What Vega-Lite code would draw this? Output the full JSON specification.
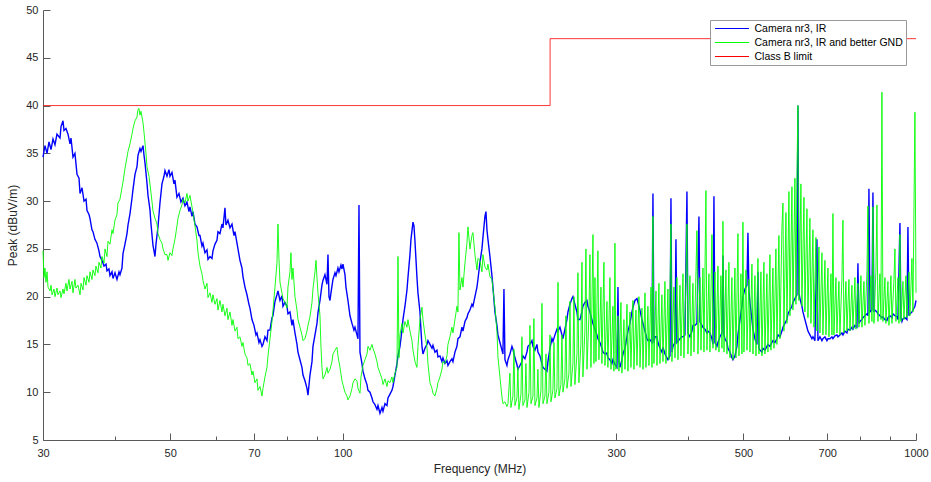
{
"$schema": "https://vega.github.io/schema/vega-lite/v6.json",
"width": 873, "height": 430,
"autosize": "none",
"padding": {"left": 43, "top": 10, "right": 15, "bottom": 42},
"background": "white",
"config": {"view": {"stroke": null}, "font": "Liberation Sans",
  "axis": {"labelFont": "Liberation Sans", "titleFont": "Liberation Sans", "labelFontSize": 11, "titleFontSize": 12, "titleFontWeight": "normal", "labelColor": "#262626", "titleColor": "#262626", "domainColor": "#5a5a5a", "tickColor": "#5a5a5a", "grid": false}},
"datasets": {
"b": [{"f":30,"v":34.6},{"f":30.24,"v":35.8},{"f":30.49,"v":35.0},{"f":30.73,"v":36.2},{"f":30.98,"v":35.4},{"f":31.23,"v":36.5},{"f":31.48,"v":35.9},{"f":31.73,"v":37.0},{"f":32.12,"v":36.6},{"f":32.25,"v":37.8},{"f":32.51,"v":38.4},{"f":32.64,"v":37.4},{"f":32.9,"v":37.6},{"f":33.17,"v":37.0},{"f":33.44,"v":36.0},{"f":33.57,"v":36.6},{"f":33.84,"v":34.6},{"f":34.11,"v":35.0},{"f":34.39,"v":32.8},{"f":34.67,"v":32.4},{"f":34.81,"v":30.8},{"f":35.09,"v":31.4},{"f":35.37,"v":30.0},{"f":35.66,"v":30.2},{"f":35.8,"v":29.0},{"f":36.09,"v":28.6},{"f":36.23,"v":28.2},{"f":36.52,"v":27.0},{"f":36.67,"v":26.8},{"f":36.96,"v":26.0},{"f":37.26,"v":25.6},{"f":37.56,"v":24.8},{"f":37.72,"v":24.2},{"f":38.02,"v":23.8},{"f":38.33,"v":23.2},{"f":38.64,"v":23.4},{"f":38.79,"v":22.7},{"f":39.1,"v":22.9},{"f":39.26,"v":22.2},{"f":39.58,"v":22.6},{"f":39.74,"v":21.9},{"f":40.06,"v":22.5},{"f":40.38,"v":21.8},{"f":40.71,"v":22.6},{"f":40.87,"v":22.3},{"f":41.2,"v":23.0},{"f":41.37,"v":24.5},{"f":41.7,"v":25.5},{"f":42.04,"v":26.6},{"f":42.21,"v":27.5},{"f":42.55,"v":28.7},{"f":42.89,"v":30.3},{"f":43.06,"v":31.2},{"f":43.41,"v":32.8},{"f":43.76,"v":33.6},{"f":43.94,"v":34.8},{"f":44.29,"v":35.5},{"f":44.47,"v":35.2},{"f":44.83,"v":35.8},{"f":45.01,"v":34.8},{"f":45.19,"v":34.0},{"f":45.55,"v":31.9},{"f":45.74,"v":30.6},{"f":46.1,"v":29.1},{"f":46.29,"v":27.6},{"f":46.66,"v":25.4},{"f":47.04,"v":24.2},{"f":47.23,"v":25.5},{"f":47.61,"v":27.3},{"f":47.99,"v":29.8},{"f":48.38,"v":31.8},{"f":48.77,"v":32.6},{"f":48.97,"v":33.2},{"f":49.36,"v":32.6},{"f":49.76,"v":33.3},{"f":49.96,"v":32.6},{"f":50.36,"v":33.0},{"f":50.77,"v":31.8},{"f":50.97,"v":32.2},{"f":51.38,"v":30.4},{"f":51.8,"v":30.8},{"f":52.21,"v":29.9},{"f":52.64,"v":30.3},{"f":53.06,"v":29.5},{"f":53.49,"v":29.9},{"f":53.92,"v":28.9},{"f":54.14,"v":29.4},{"f":54.58,"v":28.4},{"f":54.8,"v":28.9},{"f":55.24,"v":27.6},{"f":55.68,"v":27.3},{"f":56.13,"v":26.4},{"f":56.36,"v":26.4},{"f":56.81,"v":25.3},{"f":57.04,"v":25.6},{"f":57.5,"v":24.6},{"f":57.97,"v":24.9},{"f":58.2,"v":23.9},{"f":58.67,"v":24.2},{"f":59.14,"v":24.0},{"f":59.38,"v":24.8},{"f":59.86,"v":25.5},{"f":60.34,"v":25.9},{"f":60.58,"v":26.8},{"f":61.07,"v":26.6},{"f":61.56,"v":27.6},{"f":61.81,"v":27.2},{"f":62.31,"v":29.3},{"f":62.56,"v":27.5},{"f":63.06,"v":28.0},{"f":63.58,"v":27.2},{"f":64.09,"v":27.6},{"f":64.61,"v":26.4},{"f":64.87,"v":26.8},{"f":65.39,"v":25.6},{"f":65.65,"v":25.0},{"f":66.18,"v":23.8},{"f":66.71,"v":23.0},{"f":66.98,"v":22.1},{"f":67.52,"v":21.0},{"f":68.07,"v":20.2},{"f":68.61,"v":19.2},{"f":68.89,"v":18.8},{"f":69.45,"v":17.6},{"f":70.01,"v":17.0},{"f":70.57,"v":16.0},{"f":70.86,"v":16.2},{"f":71.43,"v":15.2},{"f":71.72,"v":15.5},{"f":72.3,"v":14.8},{"f":72.59,"v":15.0},{"f":73.17,"v":15.8},{"f":73.76,"v":15.4},{"f":74.06,"v":16.5},{"f":74.66,"v":16.5},{"f":75.26,"v":17.8},{"f":75.56,"v":18.0},{"f":76.17,"v":19.5},{"f":76.78,"v":20.2},{"f":77.09,"v":20.6},{"f":77.72,"v":19.6},{"f":78.34,"v":20.1},{"f":78.66,"v":19.0},{"f":79.29,"v":19.4},{"f":79.93,"v":19.0},{"f":80.25,"v":18.2},{"f":80.9,"v":18.4},{"f":81.55,"v":17.0},{"f":81.88,"v":17.6},{"f":82.54,"v":16.2},{"f":83.21,"v":15.0},{"f":83.54,"v":14.2},{"f":84.21,"v":13.4},{"f":84.89,"v":12.6},{"f":85.24,"v":11.8},{"f":85.92,"v":11.2},{"f":86.62,"v":10.4},{"f":86.97,"v":9.7},{"f":87.67,"v":11.8},{"f":88.38,"v":13.2},{"f":88.73,"v":14.8},{"f":89.45,"v":16.0},{"f":90.17,"v":17.2},{"f":90.53,"v":18.3},{"f":91.26,"v":19.6},{"f":91.99,"v":21.2},{"f":92.36,"v":21.7},{"f":93.1,"v":22.3},{"f":93.86,"v":21.3},{"f":94.24,"v":24.4},{"f":94.62,"v":20.0},{"f":95.0,"v":19.6},{"f":95.38,"v":20.4},{"f":96.15,"v":21.8},{"f":96.93,"v":22.5},{"f":97.32,"v":22.2},{"f":98.1,"v":23.0},{"f":98.5,"v":22.6},{"f":99.29,"v":23.3},{"f":99.69,"v":22.9},{"f":100.09,"v":23.4},{"f":100.9,"v":22.3},{"f":101.3,"v":21.0},{"f":102.12,"v":19.6},{"f":102.95,"v":18.0},{"f":103.78,"v":17.2},{"f":104.61,"v":16.5},{"f":105.03,"v":16.8},{"f":105.88,"v":16.0},{"f":106.31,"v":15.6},{"f":106.74,"v":29.6},{"f":107.17,"v":14.2},{"f":108.03,"v":13.0},{"f":108.46,"v":12.2},{"f":109.34,"v":11.4},{"f":110.22,"v":10.8},{"f":110.67,"v":10.2},{"f":111.56,"v":10.0},{"f":112.46,"v":9.4},{"f":112.91,"v":9.0},{"f":113.82,"v":8.7},{"f":114.74,"v":8.2},{"f":115.2,"v":8.6},{"f":116.13,"v":7.8},{"f":117.07,"v":8.4},{"f":117.54,"v":8.0},{"f":118.49,"v":8.8},{"f":119.44,"v":8.6},{"f":119.92,"v":9.4},{"f":120.89,"v":9.8},{"f":121.86,"v":10.2},{"f":122.35,"v":10.6},{"f":123.34,"v":11.8},{"f":124.34,"v":13.0},{"f":124.84,"v":13.8},{"f":125.84,"v":14.8},{"f":126.86,"v":16.5},{"f":127.37,"v":17.6},{"f":128.39,"v":19.0},{"f":129.43,"v":20.7},{"f":129.95,"v":22.0},{"f":131.0,"v":24.4},{"f":131.53,"v":26.0},{"f":132.59,"v":27.8},{"f":133.12,"v":27.4},{"f":133.66,"v":25.8},{"f":134.73,"v":22.0},{"f":135.27,"v":20.4},{"f":136.37,"v":18.4},{"f":136.92,"v":16.5},{"f":137.47,"v":14.8},{"f":138.02,"v":14.0},{"f":139.13,"v":14.6},{"f":140.25,"v":15.0},{"f":140.82,"v":15.4},{"f":141.95,"v":15.0},{"f":143.1,"v":14.6},{"f":143.67,"v":14.9},{"f":144.83,"v":14.2},{"f":146.0,"v":14.4},{"f":146.58,"v":13.7},{"f":147.77,"v":13.8},{"f":148.96,"v":13.2},{"f":149.56,"v":13.6},{"f":150.76,"v":13.0},{"f":151.98,"v":13.3},{"f":152.59,"v":12.8},{"f":153.82,"v":13.2},{"f":155.06,"v":13.5},{"f":155.69,"v":13.2},{"f":156.94,"v":14.2},{"f":158.21,"v":14.8},{"f":158.84,"v":15.6},{"f":160.13,"v":15.8},{"f":161.42,"v":16.8},{"f":162.07,"v":16.4},{"f":163.37,"v":17.4},{"f":164.69,"v":17.8},{"f":165.35,"v":18.2},{"f":166.68,"v":18.6},{"f":168.02,"v":19.2},{"f":168.71,"v":19.0},{"f":170.07,"v":20.0},{"f":171.44,"v":21.0},{"f":172.13,"v":21.8},{"f":173.52,"v":23.6},{"f":174.91,"v":25.0},{"f":175.62,"v":26.2},{"f":177.04,"v":28.4},{"f":177.75,"v":28.9},{"f":178.47,"v":27.0},{"f":179.18,"v":26.0},{"f":180.63,"v":24.2},{"f":182.08,"v":22.2},{"f":182.82,"v":21.0},{"f":184.29,"v":18.4},{"f":185.77,"v":17.0},{"f":186.53,"v":16.0},{"f":188.03,"v":15.2},{"f":189.55,"v":14.4},{"f":190.31,"v":14.0},{"f":191.08,"v":20.8},{"f":191.85,"v":13.4},{"f":193.39,"v":12.8},{"f":194.17,"v":13.4},{"f":195.74,"v":14.0},{"f":197.32,"v":14.8},{"f":198.11,"v":14.5},{"f":199.71,"v":13.6},{"f":201.32,"v":12.9},{"f":202.13,"v":12.4},{"f":203.76,"v":12.8},{"f":205.41,"v":13.2},{"f":206.23,"v":13.8},{"f":207.89,"v":13.5},{"f":209.57,"v":14.2},{"f":210.41,"v":14.8},{"f":212.11,"v":15.0},{"f":213.82,"v":15.4},{"f":214.68,"v":14.8},{"f":216.41,"v":14.4},{"f":218.16,"v":15.0},{"f":219.04,"v":14.2},{"f":220.8,"v":13.8},{"f":222.58,"v":13.0},{"f":223.47,"v":12.6},{"f":225.27,"v":12.4},{"f":227.09,"v":12.2},{"f":228.0,"v":13.2},{"f":229.85,"v":14.6},{"f":231.7,"v":15.6},{"f":232.63,"v":15.3},{"f":234.51,"v":16.0},{"f":236.4,"v":16.6},{"f":237.35,"v":16.4},{"f":239.27,"v":16.8},{"f":241.2,"v":16.0},{"f":242.17,"v":15.6},{"f":244.12,"v":16.6},{"f":246.09,"v":17.6},{"f":247.08,"v":18.4},{"f":249.07,"v":19.2},{"f":251.08,"v":19.8},{"f":252.09,"v":20.0},{"f":254.12,"v":19.2},{"f":256.17,"v":18.4},{"f":257.2,"v":17.6},{"f":259.28,"v":17.6},{"f":261.37,"v":18.4},{"f":262.42,"v":19.0},{"f":264.53,"v":19.4},{"f":266.67,"v":19.6},{"f":267.74,"v":19.0},{"f":269.9,"v":18.4},{"f":272.08,"v":17.6},{"f":273.17,"v":17.2},{"f":275.38,"v":16.6},{"f":277.6,"v":16.0},{"f":278.71,"v":15.6},{"f":280.96,"v":15.2},{"f":283.22,"v":14.6},{"f":284.37,"v":14.2},{"f":286.66,"v":14.0},{"f":288.97,"v":14.1},{"f":290.13,"v":13.6},{"f":292.47,"v":13.4},{"f":294.83,"v":13.0},{"f":296.02,"v":13.4},{"f":298.4,"v":12.9},{"f":300.84,"v":12.6},{"f":302.05,"v":21.0},{"f":303.27,"v":13.2},{"f":304.49,"v":12.6},{"f":306.94,"v":13.4},{"f":308.18,"v":14.0},{"f":310.66,"v":14.6},{"f":313.17,"v":15.8},{"f":314.43,"v":16.4},{"f":316.97,"v":17.2},{"f":319.52,"v":18.4},{"f":320.81,"v":18.9},{"f":323.39,"v":19.6},{"f":326.01,"v":19.8},{"f":327.32,"v":19.4},{"f":329.96,"v":18.6},{"f":332.62,"v":17.6},{"f":333.96,"v":17.2},{"f":336.65,"v":16.4},{"f":339.37,"v":15.6},{"f":340.74,"v":15.4},{"f":343.48,"v":15.5},{"f":346.25,"v":15.2},{"f":347.64,"v":30.8},{"f":349.04,"v":15.2},{"f":350.45,"v":15.8},{"f":353.27,"v":15.8},{"f":354.69,"v":15.2},{"f":357.56,"v":14.6},{"f":360.44,"v":14.2},{"f":361.89,"v":14.7},{"f":364.81,"v":14.0},{"f":367.75,"v":13.6},{"f":369.23,"v":13.4},{"f":372.21,"v":13.8},{"f":373.71,"v":30.3},{"f":375.21,"v":14.2},{"f":376.72,"v":14.8},{"f":379.76,"v":15.2},{"f":381.29,"v":26.0},{"f":382.82,"v":15.2},{"f":387.46,"v":15.6},{"f":390.59,"v":15.8},{"f":392.16,"v":15.8},{"f":395.32,"v":16.0},{"f":398.51,"v":31.0},{"f":400.11,"v":16.2},{"f":403.34,"v":15.8},{"f":406.59,"v":16.4},{"f":408.23,"v":17.0},{"f":411.52,"v":17.0},{"f":414.84,"v":17.2},{"f":418.18,"v":28.4},{"f":419.87,"v":17.4},{"f":423.25,"v":17.0},{"f":424.96,"v":16.8},{"f":428.39,"v":16.6},{"f":431.84,"v":16.2},{"f":433.58,"v":16.4},{"f":437.08,"v":16.2},{"f":440.6,"v":15.6},{"f":442.37,"v":15.0},{"f":444.15,"v":30.5},{"f":445.94,"v":15.2},{"f":449.54,"v":14.8},{"f":451.35,"v":15.2},{"f":454.99,"v":15.8},{"f":458.66,"v":16.2},{"f":460.5,"v":24.3},{"f":462.36,"v":16.0},{"f":464.22,"v":15.6},{"f":467.96,"v":15.2},{"f":469.84,"v":14.6},{"f":473.63,"v":14.2},{"f":477.44,"v":13.6},{"f":479.37,"v":13.4},{"f":483.23,"v":13.8},{"f":487.13,"v":14.8},{"f":489.09,"v":16.0},{"f":493.04,"v":17.6},{"f":497.01,"v":19.0},{"f":499.01,"v":20.0},{"f":503.03,"v":20.8},{"f":507.1,"v":21.2},{"f":509.14,"v":26.7},{"f":511.19,"v":20.6},{"f":513.25,"v":19.4},{"f":517.39,"v":17.6},{"f":519.47,"v":16.6},{"f":523.65,"v":15.6},{"f":527.88,"v":15.0},{"f":530.0,"v":22.6},{"f":532.13,"v":14.6},{"f":534.28,"v":14.4},{"f":538.58,"v":14.2},{"f":540.75,"v":14.6},{"f":545.11,"v":14.4},{"f":549.51,"v":14.8},{"f":551.72,"v":15.0},{"f":556.17,"v":14.8},{"f":560.65,"v":15.2},{"f":562.91,"v":15.4},{"f":567.44,"v":15.2},{"f":572.03,"v":15.6},{"f":574.33,"v":16.0},{"f":578.97,"v":15.8},{"f":583.63,"v":16.4},{"f":585.98,"v":16.8},{"f":590.7,"v":17.2},{"f":595.48,"v":17.6},{"f":597.87,"v":18.2},{"f":602.69,"v":18.6},{"f":607.55,"v":19.0},{"f":610.0,"v":19.4},{"f":614.91,"v":19.8},{"f":619.88,"v":20.2},{"f":622.37,"v":40.0},{"f":624.88,"v":20.4},{"f":627.39,"v":19.8},{"f":632.44,"v":19.0},{"f":635.0,"v":18.4},{"f":640.11,"v":17.6},{"f":645.29,"v":16.8},{"f":647.88,"v":16.4},{"f":653.11,"v":16.0},{"f":658.37,"v":15.6},{"f":661.02,"v":15.8},{"f":666.34,"v":15.4},{"f":671.73,"v":26.0},{"f":674.43,"v":15.4},{"f":679.87,"v":15.8},{"f":685.35,"v":15.4},{"f":688.11,"v":15.6},{"f":693.65,"v":15.8},{"f":699.26,"v":15.4},{"f":702.07,"v":15.6},{"f":707.74,"v":15.6},{"f":713.45,"v":15.8},{"f":716.32,"v":15.6},{"f":722.09,"v":15.9},{"f":727.92,"v":16.0},{"f":730.84,"v":15.8},{"f":736.74,"v":16.0},{"f":742.68,"v":16.2},{"f":745.67,"v":16.0},{"f":751.68,"v":16.4},{"f":757.76,"v":16.2},{"f":760.81,"v":16.6},{"f":766.94,"v":16.5},{"f":773.12,"v":16.8},{"f":776.24,"v":16.6},{"f":782.49,"v":17.0},{"f":788.81,"v":16.8},{"f":791.98,"v":23.5},{"f":795.17,"v":17.2},{"f":798.37,"v":17.4},{"f":804.8,"v":17.6},{"f":808.05,"v":17.8},{"f":814.56,"v":18.0},{"f":821.14,"v":18.2},{"f":824.44,"v":18.0},{"f":827.76,"v":31.3},{"f":831.09,"v":18.4},{"f":837.79,"v":18.6},{"f":841.17,"v":30.9},{"f":844.55,"v":18.4},{"f":847.95,"v":18.6},{"f":854.8,"v":18.4},{"f":858.24,"v":18.2},{"f":865.16,"v":18.0},{"f":872.14,"v":17.8},{"f":875.64,"v":17.9},{"f":882.7,"v":17.6},{"f":889.83,"v":17.5},{"f":893.41,"v":17.8},{"f":900.62,"v":18.0},{"f":907.88,"v":17.8},{"f":911.53,"v":18.2},{"f":918.88,"v":18.0},{"f":926.3,"v":17.9},{"f":930.03,"v":17.6},{"f":937.53,"v":27.7},{"f":941.3,"v":17.8},{"f":945.09,"v":17.4},{"f":948.89,"v":17.7},{"f":956.55,"v":17.8},{"f":964.27,"v":17.6},{"f":968.15,"v":27.3},{"f":972.05,"v":18.0},{"f":975.95,"v":18.2},{"f":983.81,"v":18.4},{"f":987.78,"v":18.6},{"f":995.72,"v":19.0},{"f":1000,"v":19.6}],
"g": [{"f":30,"v":24.8},{"f":30.12,"v":22.0},{"f":30.24,"v":23.0},{"f":30.36,"v":21.5},{"f":30.49,"v":22.6},{"f":30.61,"v":21.0},{"f":30.86,"v":20.6},{"f":30.98,"v":21.2},{"f":31.11,"v":20.2},{"f":31.36,"v":20.8},{"f":31.48,"v":20.0},{"f":31.73,"v":20.9},{"f":31.86,"v":20.2},{"f":32.12,"v":20.6},{"f":32.25,"v":19.9},{"f":32.51,"v":20.8},{"f":32.64,"v":20.3},{"f":32.9,"v":21.4},{"f":33.03,"v":20.6},{"f":33.3,"v":21.8},{"f":33.44,"v":20.8},{"f":33.71,"v":21.6},{"f":33.84,"v":20.4},{"f":34.11,"v":21.8},{"f":34.25,"v":20.9},{"f":34.53,"v":21.2},{"f":34.81,"v":20.2},{"f":34.95,"v":21.4},{"f":35.23,"v":20.7},{"f":35.37,"v":22.0},{"f":35.66,"v":21.2},{"f":35.8,"v":22.2},{"f":36.09,"v":21.5},{"f":36.23,"v":22.6},{"f":36.52,"v":21.8},{"f":36.67,"v":22.8},{"f":36.96,"v":22.2},{"f":37.11,"v":23.2},{"f":37.41,"v":22.5},{"f":37.56,"v":23.6},{"f":37.87,"v":23.0},{"f":38.02,"v":24.2},{"f":38.33,"v":23.5},{"f":38.48,"v":25.0},{"f":38.79,"v":24.2},{"f":38.95,"v":25.8},{"f":39.26,"v":25.5},{"f":39.58,"v":27.0},{"f":39.74,"v":26.6},{"f":40.06,"v":28.0},{"f":40.38,"v":28.6},{"f":40.54,"v":29.8},{"f":40.87,"v":30.2},{"f":41.2,"v":31.4},{"f":41.37,"v":32.0},{"f":41.7,"v":33.4},{"f":42.04,"v":34.6},{"f":42.21,"v":35.2},{"f":42.55,"v":36.0},{"f":42.89,"v":37.0},{"f":43.06,"v":37.6},{"f":43.41,"v":38.4},{"f":43.76,"v":38.8},{"f":43.94,"v":39.6},{"f":44.11,"v":39.7},{"f":44.29,"v":39.0},{"f":44.47,"v":39.4},{"f":44.83,"v":38.2},{"f":45.01,"v":37.2},{"f":45.37,"v":35.0},{"f":45.55,"v":33.6},{"f":45.92,"v":32.6},{"f":46.1,"v":31.8},{"f":46.47,"v":30.0},{"f":46.66,"v":29.0},{"f":47.04,"v":28.2},{"f":47.42,"v":27.6},{"f":47.61,"v":26.6},{"f":47.99,"v":26.0},{"f":48.38,"v":25.6},{"f":48.58,"v":25.0},{"f":48.97,"v":24.4},{"f":49.36,"v":24.4},{"f":49.56,"v":23.8},{"f":49.96,"v":24.6},{"f":50.36,"v":24.3},{"f":50.56,"v":25.0},{"f":50.97,"v":26.0},{"f":51.38,"v":27.4},{"f":51.59,"v":28.2},{"f":52.0,"v":29.0},{"f":52.42,"v":29.6},{"f":52.64,"v":30.2},{"f":53.06,"v":29.8},{"f":53.49,"v":30.8},{"f":53.7,"v":30.0},{"f":54.14,"v":30.6},{"f":54.58,"v":29.4},{"f":54.8,"v":28.8},{"f":55.24,"v":27.4},{"f":55.68,"v":25.9},{"f":55.91,"v":24.6},{"f":56.36,"v":23.2},{"f":56.81,"v":22.4},{"f":57.04,"v":21.7},{"f":57.5,"v":20.8},{"f":57.97,"v":21.4},{"f":58.2,"v":19.9},{"f":58.67,"v":20.4},{"f":59.14,"v":19.4},{"f":59.38,"v":20.2},{"f":59.86,"v":19.2},{"f":60.34,"v":19.8},{"f":60.58,"v":18.6},{"f":61.07,"v":19.6},{"f":61.56,"v":18.4},{"f":61.81,"v":19.2},{"f":62.31,"v":18.0},{"f":62.81,"v":18.8},{"f":63.06,"v":17.6},{"f":63.58,"v":18.4},{"f":64.09,"v":17.0},{"f":64.35,"v":17.6},{"f":64.87,"v":16.4},{"f":65.39,"v":16.8},{"f":65.65,"v":15.6},{"f":66.18,"v":15.8},{"f":66.71,"v":14.8},{"f":66.98,"v":15.2},{"f":67.52,"v":14.0},{"f":68.07,"v":13.6},{"f":68.34,"v":12.8},{"f":68.89,"v":13.0},{"f":69.45,"v":11.8},{"f":69.73,"v":12.2},{"f":70.29,"v":11.0},{"f":70.86,"v":11.4},{"f":71.14,"v":10.2},{"f":71.72,"v":10.6},{"f":72.3,"v":9.6},{"f":72.59,"v":10.4},{"f":73.17,"v":11.6},{"f":73.76,"v":12.6},{"f":74.06,"v":13.8},{"f":74.66,"v":15.6},{"f":75.26,"v":17.4},{"f":75.56,"v":18.6},{"f":76.17,"v":21.0},{"f":76.78,"v":23.5},{"f":77.09,"v":27.6},{"f":77.4,"v":24.0},{"f":77.72,"v":21.5},{"f":78.34,"v":20.4},{"f":78.66,"v":19.8},{"f":79.29,"v":19.4},{"f":79.93,"v":18.8},{"f":80.25,"v":21.0},{"f":80.9,"v":22.6},{"f":81.22,"v":24.6},{"f":81.55,"v":21.8},{"f":81.88,"v":23.0},{"f":82.54,"v":20.0},{"f":83.21,"v":18.6},{"f":83.54,"v":17.6},{"f":84.21,"v":16.8},{"f":84.89,"v":16.0},{"f":85.24,"v":15.4},{"f":85.92,"v":15.6},{"f":86.62,"v":16.4},{"f":86.97,"v":17.0},{"f":87.67,"v":17.9},{"f":88.38,"v":19.4},{"f":88.73,"v":20.8},{"f":89.45,"v":22.6},{"f":89.81,"v":23.8},{"f":90.17,"v":22.0},{"f":90.53,"v":20.4},{"f":91.26,"v":18.0},{"f":91.62,"v":14.8},{"f":91.99,"v":12.6},{"f":92.36,"v":11.4},{"f":93.1,"v":11.8},{"f":93.86,"v":12.6},{"f":94.24,"v":12.0},{"f":95.0,"v":12.4},{"f":95.77,"v":13.2},{"f":96.15,"v":14.0},{"f":96.93,"v":14.4},{"f":97.71,"v":14.7},{"f":98.1,"v":13.8},{"f":98.89,"v":12.6},{"f":99.69,"v":11.2},{"f":100.09,"v":10.8},{"f":100.9,"v":10.0},{"f":101.71,"v":9.6},{"f":102.12,"v":9.2},{"f":102.95,"v":9.6},{"f":103.78,"v":10.4},{"f":104.19,"v":11.0},{"f":105.03,"v":11.4},{"f":105.88,"v":11.2},{"f":106.31,"v":10.4},{"f":107.17,"v":9.9},{"f":107.6,"v":11.6},{"f":108.46,"v":12.8},{"f":109.34,"v":13.4},{"f":110.22,"v":14.0},{"f":110.67,"v":14.8},{"f":111.56,"v":14.4},{"f":112.46,"v":15.0},{"f":112.91,"v":14.6},{"f":113.82,"v":14.0},{"f":114.74,"v":13.2},{"f":115.2,"v":12.6},{"f":116.13,"v":12.0},{"f":117.07,"v":11.4},{"f":117.54,"v":10.8},{"f":118.49,"v":11.4},{"f":119.44,"v":10.6},{"f":119.92,"v":11.2},{"f":120.89,"v":11.0},{"f":121.86,"v":11.6},{"f":122.35,"v":11.0},{"f":123.34,"v":12.0},{"f":124.34,"v":12.6},{"f":124.84,"v":24.2},{"f":125.34,"v":13.6},{"f":125.84,"v":16.0},{"f":126.86,"v":17.2},{"f":127.37,"v":16.2},{"f":128.39,"v":17.4},{"f":129.43,"v":16.8},{"f":129.95,"v":17.6},{"f":131.0,"v":16.4},{"f":132.06,"v":15.4},{"f":132.59,"v":14.4},{"f":133.66,"v":13.2},{"f":134.73,"v":12.6},{"f":135.27,"v":14.8},{"f":136.37,"v":17.6},{"f":137.47,"v":18.9},{"f":138.02,"v":17.6},{"f":139.13,"v":16.0},{"f":140.25,"v":14.7},{"f":140.82,"v":13.0},{"f":141.95,"v":11.0},{"f":143.1,"v":10.4},{"f":143.67,"v":9.9},{"f":144.83,"v":9.6},{"f":146.0,"v":10.4},{"f":146.58,"v":11.0},{"f":147.77,"v":11.6},{"f":148.96,"v":12.4},{"f":149.56,"v":13.2},{"f":150.76,"v":13.0},{"f":151.98,"v":13.8},{"f":152.59,"v":15.0},{"f":153.82,"v":15.8},{"f":155.06,"v":16.8},{"f":155.69,"v":16.2},{"f":156.94,"v":17.6},{"f":158.21,"v":19.0},{"f":158.84,"v":18.4},{"f":159.48,"v":26.7},{"f":160.13,"v":20.7},{"f":161.42,"v":22.0},{"f":162.07,"v":21.0},{"f":163.37,"v":23.5},{"f":164.69,"v":25.6},{"f":165.35,"v":27.3},{"f":166.68,"v":25.0},{"f":168.02,"v":26.4},{"f":168.71,"v":26.7},{"f":170.07,"v":24.4},{"f":171.44,"v":22.8},{"f":172.13,"v":24.0},{"f":173.52,"v":23.8},{"f":174.91,"v":22.6},{"f":175.62,"v":24.4},{"f":177.04,"v":23.1},{"f":178.47,"v":22.8},{"f":179.18,"v":23.4},{"f":180.63,"v":22.1},{"f":182.08,"v":21.8},{"f":182.82,"v":20.8},{"f":184.29,"v":18.9},{"f":185.77,"v":16.4},{"f":186.53,"v":13.7},{"f":188.03,"v":11.6},{"f":189.55,"v":9.5},{"f":190.31,"v":8.8},{"f":191.85,"v":9.0},{"f":193.39,"v":8.5},{"f":194.2,"v":8.8},{"f":195.7,"v":12.0},{"f":196.5,"v":8.4},{"f":198.1,"v":9.6},{"f":198.9,"v":14.5},{"f":199.7,"v":8.6},{"f":201.3,"v":9.4},{"f":202.1,"v":12.6},{"f":202.9,"v":8.2},{"f":204.6,"v":9.8},{"f":205.4,"v":15.8},{"f":206.2,"v":8.6},{"f":207.9,"v":9.2},{"f":208.7,"v":13.0},{"f":209.6,"v":8.4},{"f":211.3,"v":10.0},{"f":212.1,"v":17.0},{"f":213.0,"v":8.8},{"f":214.7,"v":9.6},{"f":215.5,"v":17.7},{"f":216.4,"v":8.6},{"f":218.2,"v":9.4},{"f":219.0,"v":12.4},{"f":219.9,"v":8.4},{"f":221.7,"v":10.2},{"f":222.6,"v":19.3},{"f":223.5,"v":8.8},{"f":225.3,"v":9.6},{"f":226.2,"v":14.0},{"f":227.1,"v":8.8},{"f":228.9,"v":10.0},{"f":229.9,"v":16.0},{"f":230.8,"v":9.0},{"f":232.6,"v":10.2},{"f":233.6,"v":15.2},{"f":234.5,"v":9.4},{"f":236.4,"v":10.4},{"f":237.4,"v":21.5},{"f":238.3,"v":9.6},{"f":240.2,"v":10.8},{"f":241.2,"v":16.0},{"f":242.2,"v":10.0},{"f":244.1,"v":11.4},{"f":245.1,"v":18.0},{"f":246.1,"v":10.4},{"f":248.1,"v":12.0},{"f":249.1,"v":19.5},{"f":250.1,"v":10.6},{"f":252.1,"v":13.0},{"f":253.1,"v":20.0},{"f":254.1,"v":10.8},{"f":256.2,"v":14.0},{"f":257.2,"v":22.5},{"f":258.2,"v":11.0},{"f":260.3,"v":15.0},{"f":261.4,"v":23.6},{"f":262.4,"v":11.6},{"f":264.5,"v":16.4},{"f":265.6,"v":25.0},{"f":266.7,"v":12.4},{"f":268.8,"v":18.0},{"f":269.9,"v":24.4},{"f":271.0,"v":12.6},{"f":273.2,"v":26.5},{"f":274.3,"v":13.0},{"f":275.4,"v":22.0},{"f":276.5,"v":13.2},{"f":278.7,"v":24.8},{"f":279.8,"v":13.4},{"f":282.1,"v":21.0},{"f":283.2,"v":13.0},{"f":285.5,"v":23.6},{"f":286.7,"v":12.8},{"f":289.0,"v":19.5},{"f":290.1,"v":12.6},{"f":292.5,"v":22.0},{"f":293.7,"v":12.4},{"f":296.0,"v":19.0},{"f":297.2,"v":12.2},{"f":298.4,"v":25.6},{"f":299.6,"v":12.4},{"f":302.1,"v":18.0},{"f":303.3,"v":12.2},{"f":305.7,"v":19.4},{"f":306.9,"v":12.0},{"f":309.4,"v":17.6},{"f":310.7,"v":12.4},{"f":313.2,"v":19.2},{"f":314.4,"v":12.2},{"f":317.0,"v":18.4},{"f":318.2,"v":12.6},{"f":320.8,"v":19.6},{"f":322.1,"v":12.4},{"f":324.7,"v":18.6},{"f":326.0,"v":12.8},{"f":328.6,"v":20.0},{"f":330.0,"v":12.6},{"f":332.6,"v":18.8},{"f":334.0,"v":12.4},{"f":336.7,"v":20.4},{"f":338.0,"v":12.6},{"f":340.7,"v":19.0},{"f":342.1,"v":12.8},{"f":344.9,"v":21.0},{"f":346.3,"v":12.6},{"f":347.6,"v":28.4},{"f":349.0,"v":13.0},{"f":351.9,"v":20.6},{"f":353.3,"v":12.8},{"f":356.1,"v":21.4},{"f":357.6,"v":13.0},{"f":360.4,"v":20.2},{"f":361.9,"v":13.2},{"f":364.8,"v":21.6},{"f":366.3,"v":13.0},{"f":369.2,"v":20.8},{"f":370.7,"v":13.4},{"f":373.7,"v":27.6},{"f":375.2,"v":13.2},{"f":378.2,"v":21.0},{"f":379.8,"v":13.6},{"f":382.8,"v":22.0},{"f":384.4,"v":13.4},{"f":387.5,"v":21.2},{"f":389.0,"v":13.8},{"f":392.2,"v":22.4},{"f":393.7,"v":13.6},{"f":396.9,"v":21.6},{"f":398.5,"v":27.6},{"f":400.1,"v":14.0},{"f":403.3,"v":22.2},{"f":405.0,"v":13.8},{"f":408.2,"v":21.4},{"f":409.9,"v":14.2},{"f":413.2,"v":22.6},{"f":414.8,"v":26.9},{"f":416.5,"v":14.0},{"f":419.9,"v":22.0},{"f":421.6,"v":14.4},{"f":425.0,"v":23.0},{"f":426.7,"v":14.2},{"f":430.1,"v":31.1},{"f":431.8,"v":14.4},{"f":435.3,"v":22.4},{"f":437.1,"v":14.2},{"f":440.6,"v":26.5},{"f":442.4,"v":14.6},{"f":445.9,"v":22.6},{"f":447.7,"v":14.4},{"f":451.4,"v":23.2},{"f":453.2,"v":14.2},{"f":456.8,"v":22.2},{"f":458.7,"v":14.6},{"f":460.5,"v":27.9},{"f":462.4,"v":14.2},{"f":466.1,"v":22.8},{"f":468.0,"v":14.0},{"f":471.7,"v":23.6},{"f":473.6,"v":13.6},{"f":477.4,"v":22.0},{"f":479.4,"v":13.4},{"f":483.2,"v":23.0},{"f":485.2,"v":13.6},{"f":489.1,"v":26.6},{"f":491.1,"v":13.8},{"f":495.0,"v":22.4},{"f":497.0,"v":14.0},{"f":499.0,"v":27.8},{"f":501.0,"v":14.2},{"f":505.1,"v":22.8},{"f":507.1,"v":14.4},{"f":511.2,"v":21.8},{"f":513.3,"v":14.2},{"f":517.4,"v":23.4},{"f":519.5,"v":14.0},{"f":523.7,"v":22.2},{"f":525.8,"v":13.8},{"f":530.0,"v":24.0},{"f":532.1,"v":14.0},{"f":536.4,"v":22.6},{"f":538.6,"v":13.8},{"f":542.9,"v":23.6},{"f":545.1,"v":14.0},{"f":549.5,"v":22.4},{"f":551.7,"v":14.2},{"f":556.2,"v":24.4},{"f":558.4,"v":14.4},{"f":562.9,"v":23.0},{"f":565.2,"v":14.6},{"f":569.7,"v":25.0},{"f":572.0,"v":15.0},{"f":576.6,"v":26.4},{"f":579.0,"v":15.6},{"f":583.6,"v":27.2},{"f":586.0,"v":29.8},{"f":588.3,"v":16.4},{"f":593.1,"v":28.8},{"f":595.5,"v":17.2},{"f":600.3,"v":31.0},{"f":602.7,"v":18.0},{"f":607.6,"v":31.5},{"f":610.0,"v":18.6},{"f":614.9,"v":32.4},{"f":617.4,"v":19.2},{"f":619.9,"v":33.0},{"f":622.4,"v":40.0},{"f":624.9,"v":19.6},{"f":629.9,"v":31.8},{"f":632.4,"v":19.0},{"f":637.6,"v":30.4},{"f":640.1,"v":18.4},{"f":645.3,"v":29.2},{"f":647.9,"v":17.8},{"f":653.1,"v":28.2},{"f":655.7,"v":17.2},{"f":661.0,"v":27.0},{"f":663.7,"v":16.8},{"f":669.0,"v":26.2},{"f":671.7,"v":16.4},{"f":677.1,"v":25.2},{"f":679.9,"v":16.2},{"f":685.4,"v":24.6},{"f":688.1,"v":16.0},{"f":693.7,"v":23.8},{"f":696.5,"v":16.0},{"f":702.1,"v":23.0},{"f":704.9,"v":15.8},{"f":710.6,"v":22.4},{"f":713.5,"v":16.0},{"f":716.3,"v":28.7},{"f":719.2,"v":16.0},{"f":725.0,"v":22.0},{"f":727.9,"v":16.2},{"f":733.8,"v":21.6},{"f":736.7,"v":16.0},{"f":742.7,"v":22.0},{"f":745.7,"v":28.0},{"f":748.7,"v":16.2},{"f":754.7,"v":21.6},{"f":757.8,"v":16.4},{"f":763.9,"v":21.8},{"f":766.9,"v":16.4},{"f":773.1,"v":21.2},{"f":776.2,"v":16.6},{"f":782.5,"v":22.0},{"f":785.6,"v":16.6},{"f":792.0,"v":21.4},{"f":795.2,"v":16.8},{"f":801.6,"v":22.2},{"f":804.8,"v":16.8},{"f":811.3,"v":21.6},{"f":814.6,"v":17.0},{"f":821.1,"v":22.6},{"f":824.4,"v":29.5},{"f":827.8,"v":17.2},{"f":834.4,"v":22.2},{"f":837.8,"v":17.4},{"f":841.2,"v":29.4},{"f":844.6,"v":17.2},{"f":851.4,"v":22.8},{"f":854.8,"v":29.6},{"f":858.2,"v":17.4},{"f":865.2,"v":22.4},{"f":868.6,"v":17.6},{"f":872.1,"v":41.4},{"f":875.6,"v":17.4},{"f":882.7,"v":22.0},{"f":886.3,"v":17.2},{"f":893.4,"v":21.6},{"f":897.0,"v":17.0},{"f":904.2,"v":22.2},{"f":907.9,"v":17.2},{"f":915.2,"v":21.8},{"f":918.9,"v":25.0},{"f":922.6,"v":17.4},{"f":930.0,"v":22.0},{"f":933.8,"v":17.2},{"f":937.5,"v":26.5},{"f":941.3,"v":17.4},{"f":948.9,"v":21.6},{"f":952.7,"v":17.6},{"f":960.4,"v":22.2},{"f":964.3,"v":17.8},{"f":972.1,"v":22.6},{"f":976.0,"v":18.0},{"f":983.8,"v":24.0},{"f":987.8,"v":18.4},{"f":995.7,"v":39.3},{"f":1000,"v":20.4}],
"r": [{"f":30,"v":40,"i":1},{"f":230,"v":40,"i":2},{"f":230,"v":47,"i":3},{"f":1000,"v":47,"i":4}]
},
"layer": [
{"data": {"name": "b"},
 "mark": {"type": "line", "strokeWidth": 1.4},
 "encoding": {
  "x": {"field": "f", "type": "quantitative", "scale": {"type": "log", "domain": [30, 1000], "nice": false},
        "axis": {"values": [30, 50, 70, 100, 300, 500, 700, 1000], "format": "d", "tickSize": -7, "labelPadding": 14, "labelFlush": false, "labelOverlap": false, "title": "Frequency (MHz)", "titlePadding": 5, "orient": "bottom"}},
  "y": {"field": "v", "type": "quantitative", "scale": {"domain": [5, 50], "nice": false, "zero": false},
        "axis": {"values": [5, 10, 15, 20, 25, 30, 35, 40, 45, 50], "tickSize": -7, "labelPadding": 12, "title": "Peak (dBuV/m)", "titlePadding": 6}},
  "color": {"datum": "Camera nr3, IR", "type": "nominal",
        "scale": {"domain": ["Camera nr3, IR", "Camera nr3, IR and better GND", "Class B limit"], "range": ["#0000ff", "#00ff00", "#ff0000"]},
        "legend": {"title": null, "orient": "top-right", "offset": 10, "symbolType": "M-3.4,0H3.4", "symbolSize": 100, "symbolStrokeWidth": 1, "symbolOffset": 13.5, "labelOffset": 17, "labelFont": "Liberation Sans", "labelFontSize": 10.5, "labelColor": "#000000", "fillColor": "#ffffff", "strokeColor": "#999999", "padding": 3, "rowPadding": 3, "labelLimit": 300}}
 }},
{"data": {"name": "g"},
 "mark": {"type": "line", "strokeWidth": 0.9},
 "encoding": {
  "x": {"field": "f", "type": "quantitative",
        "axis": {"values": [40, 60, 80, 90, 200, 400, 600, 800, 900], "tickSize": -4, "labels": false, "domain": false, "title": null, "orient": "bottom"}},
  "y": {"field": "v", "type": "quantitative"},
  "color": {"datum": "Camera nr3, IR and better GND", "type": "nominal"}
 }},
{"data": {"name": "r"},
 "mark": {"type": "line", "strokeWidth": 0.8},
 "encoding": {
  "x": {"field": "f", "type": "quantitative", "axis": null},
  "y": {"field": "v", "type": "quantitative"},
  "order": {"field": "i", "type": "quantitative"},
  "color": {"datum": "Class B limit", "type": "nominal"}
 }}
],
"resolve": {"axis": {"x": "independent"}}
}
